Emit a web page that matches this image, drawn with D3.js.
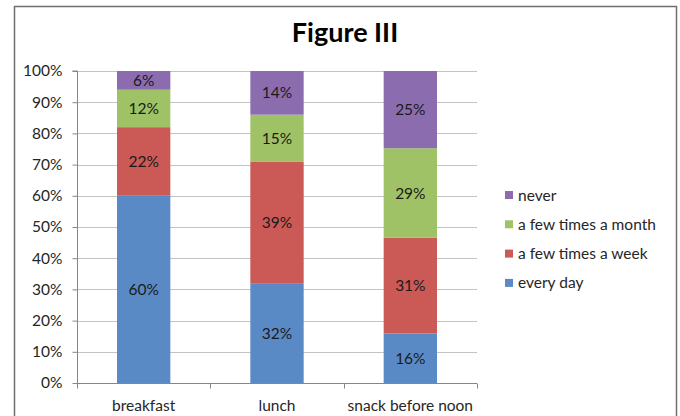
<!DOCTYPE html>
<html>
<head>
<meta charset="utf-8">
<script src="https://cdn.jsdelivr.net/npm/d3@7"></script>
<style>
  html, body { margin: 0; padding: 0; background: #fff; }
  svg text { font-family: Lato, "Open Sans", sans-serif; }
</style>
</head>
<body>
<svg id="chart" width="680" height="416"></svg>
<script>
// Meal frequency shares by meal type
const categories = ["breakfast", "lunch", "snack before noon"];
const seriesNames = ["every day", "a few times a week", "a few times a month", "never"];
const everyDay = [60, 32, 16];
const fewTimesWeek = [22, 39, 31];
const fewTimesMonth = [12, 15, 29];
const never = [6, 14, 25];
const yTicks = [0, 0.1, 0.2, 0.3, 0.4, 0.5, 0.6, 0.7, 0.8, 0.9, 1.0];
const colors = ["#5a8ac6", "#cb5a57", "#a0c266", "#8b6daf"];
const title = "Figure III";

const rows = categories.map((c, i) => ({
  category: c,
  "every day": everyDay[i],
  "a few times a week": fewTimesWeek[i],
  "a few times a month": fewTimesMonth[i],
  "never": never[i]
}));

const svg = d3.select("#chart");
const textColor = "#262626";
const fontSize = 15.5;

// outer chart frame
svg.append("rect")
  .attr("x", 14.5).attr("y", 6.5)
  .attr("width", 662).attr("height", 420)
  .attr("fill", "#fff").attr("stroke", "#6e6e6e").attr("stroke-width", 1.5);

const plot = { left: 77, right: 477, top: 71, bottom: 383 };

const x = d3.scaleBand()
  .domain(categories)
  .range([plot.left, plot.right])
  .paddingInner(0.6).paddingOuter(0.3);

const y = d3.scaleLinear().domain([0, 1]).range([plot.bottom, plot.top]);

const color = d3.scaleOrdinal().domain(seriesNames).range(colors);

const stack = d3.stack().keys(seriesNames).offset(d3.stackOffsetExpand);
const layers = stack(rows);

// gridlines
svg.append("g")
  .selectAll("line")
  .data(yTicks.filter(t => t > 0))
  .join("line")
  .attr("x1", plot.left).attr("x2", plot.right)
  .attr("y1", d => Math.round(y(d)) + 0.5).attr("y2", d => Math.round(y(d)) + 0.5)
  .attr("stroke", "#c3c3c3").attr("stroke-width", 1);

// y axis
const yAxis = svg.append("g")
  .attr("transform", `translate(${plot.left + 0.5},0)`)
  .call(d3.axisLeft(y).tickValues(yTicks).tickFormat(d3.format(".0%")).tickSize(5).tickPadding(10));
yAxis.select(".domain").attr("stroke", "#868686").attr("d", `M-5,${plot.top}H0V${plot.bottom}`);
yAxis.selectAll(".tick line").attr("stroke", "#868686");
yAxis.selectAll(".tick text").attr("font-size", fontSize).attr("fill", textColor);

// x axis with boundary ticks between categories
const xAxisG = svg.append("g").attr("transform", `translate(0,${plot.bottom + 0.5})`);
xAxisG.append("line")
  .attr("x1", plot.left).attr("x2", plot.right)
  .attr("stroke", "#868686");
const bounds = d3.range(categories.length + 1).map(i => plot.left + i * (plot.right - plot.left) / categories.length);
xAxisG.selectAll("line.b")
  .data(bounds)
  .join("line")
  .attr("class", "b")
  .attr("x1", d => Math.round(d) + 0.5).attr("x2", d => Math.round(d) + 0.5)
  .attr("y1", 0).attr("y2", 5)
  .attr("stroke", "#868686");
xAxisG.selectAll("text")
  .data(categories)
  .join("text")
  .attr("x", d => x(d) + x.bandwidth() / 2)
  .attr("y", 27)
  .attr("text-anchor", "middle")
  .attr("font-size", fontSize)
  .attr("fill", textColor)
  .text(d => d);

// stacked bars
const g = svg.append("g");
layers.forEach(layer => {
  g.append("g")
    .attr("fill", color(layer.key))
    .selectAll("rect")
    .data(layer)
    .join("rect")
    .attr("x", d => x(d.data.category))
    .attr("width", x.bandwidth())
    .attr("y", d => y(d[1]))
    .attr("height", d => y(d[0]) - y(d[1]));

  g.append("g")
    .selectAll("text")
    .data(layer)
    .join("text")
    .attr("x", d => x(d.data.category) + x.bandwidth() / 2)
    .attr("y", d => (y(d[0]) + y(d[1])) / 2)
    .attr("dy", "0.36em")
    .attr("text-anchor", "middle")
    .attr("font-size", fontSize)
    .attr("fill", "#1a1a1a")
    .text(d => d.data[layer.key] + "%");
});

// title
svg.append("text")
  .attr("x", 345).attr("y", 42)
  .attr("text-anchor", "middle")
  .attr("font-size", 27)
  .attr("font-weight", "bold")
  .attr("fill", "#000")
  .text(title);

// legend, top entry is the top of the stack
const legendItems = seriesNames.slice().reverse();
const legend = svg.append("g").attr("transform", "translate(505,195)");
const li = legend.selectAll("g")
  .data(legendItems)
  .join("g")
  .attr("transform", (d, i) => `translate(0,${i * 29.3})`);
li.append("rect")
  .attr("x", 0).attr("y", -4)
  .attr("width", 8).attr("height", 8)
  .attr("fill", d => color(d));
li.append("text")
  .attr("x", 13).attr("y", 0)
  .attr("dy", "0.36em")
  .attr("font-size", fontSize)
  .attr("fill", textColor)
  .text(d => d);
</script>
</body>
</html>
